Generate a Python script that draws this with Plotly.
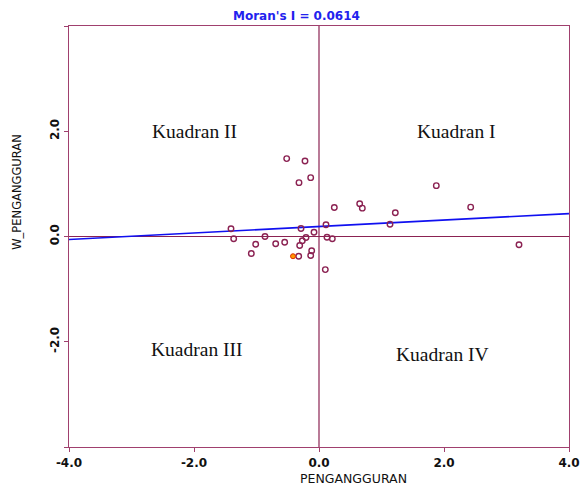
import plotly.graph_objects as go

# Data (standardized values)
pengangguran = [-0.517, -0.224, -0.320, -0.133, 0.245, -1.408, -1.365, -0.864, -1.013, -1.083,
                -0.693, -0.549, -0.288, -0.267, -0.208, -0.309, -0.080, -0.117, -0.133, -0.325,
                0.112, 0.128, 0.213, 0.101, 0.651, 0.693, 1.221, 1.136, 1.877, 2.427, 3.200]
w_pengangguran = [1.480, 1.434, 1.023, 1.118, 0.552, 0.147, -0.044, 0.000, -0.147, -0.324,
                  -0.139, -0.109, 0.152, -0.082, -0.019, -0.171, 0.082, -0.272, -0.362, -0.375,
                  0.223, -0.013, -0.044, -0.629, 0.623, 0.539, 0.451, 0.234, 0.966, 0.558, -0.158]
highlight_x = [-0.416]
highlight_y = [-0.375]

morans_i = 0.0614
reg_intercept = 0.19
reg_x = [-4.0, 4.0]
reg_y = [reg_intercept + morans_i * v for v in reg_x]

x_ticks = [-4, -2, 0, 2, 4]
x_tick_labels = ["-4.0", "-2.0", "0.0", "2.0", "4.0"]
y_ticks = [-4, -2, 0, 2, 4]
y_tick_labels = ["", "-2.0", "0.0", "2.0", ""]

quadrants = [("Kuadran II", -2.0, 2.0), ("Kuadran I", 2.2, 2.0),
             ("Kuadran III", -1.95, -2.15), ("Kuadran IV", 1.98, -2.25)]

frame_color = "#A0406E"
zero_color = "#8B2252"

fig = go.Figure()
fig.add_shape(type="line", x0=0, x1=0, y0=-4, y1=4, line=dict(color=zero_color, width=1.2), layer="below")
fig.add_shape(type="line", x0=-4, x1=4, y0=0, y1=0, line=dict(color=zero_color, width=1.2), layer="below")

fig.add_trace(go.Scatter(x=reg_x, y=reg_y, mode="lines",
                         line=dict(color="#1010F0", width=1.6), showlegend=False, hoverinfo="skip"))
fig.add_trace(go.Scatter(x=pengangguran, y=w_pengangguran, mode="markers",
                         marker=dict(symbol="circle-open", size=5.5, color="#8B2252", line=dict(width=1.4)),
                         showlegend=False))
fig.add_trace(go.Scatter(x=highlight_x, y=highlight_y, mode="markers",
                         marker=dict(symbol="circle", size=5, color="#FF9900", line=dict(color="#E03000", width=1)),
                         showlegend=False))

for text, qx, qy in quadrants:
    fig.add_annotation(x=qx, y=qy, text=text, showarrow=False,
                       font=dict(family="Liberation Serif", size=19.5, color="#111111"))

# Title as an annotation just above the plot area
fig.add_annotation(xref="paper", yref="paper", x=0.455, y=1.004, text="<b>Moran's I = 0.0614</b>",
                   showarrow=False, xanchor="center", yanchor="bottom", borderpad=0,
                   font=dict(family="DejaVu Sans", size=12, color="#2222EE"))
fig.add_annotation(xref="paper", yref="paper", x=0.569, y=-0.076, text="PENGANGGURAN",
                   showarrow=False, xanchor="center", yanchor="middle",
                   font=dict(family="DejaVu Sans", size=12.5, color="#111111"))
fig.add_annotation(xref="paper", yref="paper", x=-0.103, y=0.605, text="W_PENGANGGURAN",
                   showarrow=False, xanchor="center", yanchor="middle", textangle=-90,
                   font=dict(family="DejaVu Sans", size=11.5, color="#111111"))

fig.update_layout(
    width=580, height=480,
    margin=dict(l=61, r=19, t=18, b=41, autoexpand=False),
    paper_bgcolor="white", plot_bgcolor="white",
    font=dict(family="DejaVu Sans", color="#111111"),
)
fig.update_xaxes(range=[-4, 4], tickvals=x_ticks, ticktext=x_tick_labels,
                 showgrid=False, zeroline=False, showline=True, mirror=True,
                 linecolor=frame_color, linewidth=1.2, ticks="outside", ticklen=4,
                 tickcolor=frame_color, automargin=False,
                 tickfont=dict(size=12, family="DejaVu Sans", weight="bold", color="#111111"))
fig.update_yaxes(range=[-4, 4], tickvals=y_ticks, ticktext=y_tick_labels, tickangle=-90,
                 showgrid=False, zeroline=False, showline=True, mirror=True,
                 linecolor=frame_color, linewidth=1.2, ticks="outside", ticklen=4,
                 tickcolor=frame_color, automargin=False,
                 tickfont=dict(size=12, family="DejaVu Sans", weight="bold", color="#111111"))

fig.write_html("out.html")
